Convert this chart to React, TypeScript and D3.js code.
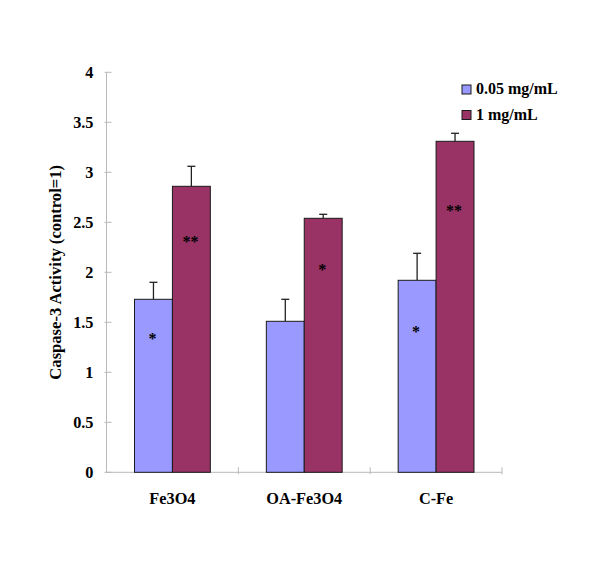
import React from "react";
import * as d3 from "d3";

const categories = ["Fe3O4", "OA-Fe3O4", "C-Fe"];
const seriesNames = ["0.05 mg/mL", "1 mg/mL"];
const seriesColors = ["#9999FF", "#993366"];
const lowDose = [1.73, 1.51, 1.92];
const highDose = [2.86, 2.54, 3.31];
const lowErr = [0.17, 0.22, 0.27];
const highErr = [0.2, 0.04, 0.08];
const lowMarks = ["*", "", "*"];
const highMarks = ["**", "*", "**"];
const lowMarkAt = [1.36, 0, 1.43];
const highMarkAt = [2.33, 2.05, 2.64];
const yTicks = [0, 0.5, 1, 1.5, 2, 2.5, 3, 3.5, 4];

const W = 600;
const H = 566;
const FONT = "'Liberation Serif', 'Times New Roman', serif";

export default function App() {
  const x0 = d3.scaleBand<string>().domain(categories).range([106.5, 502]).padding(0);
  const x1 = d3
    .scaleBand<string>()
    .domain(["a", "b"])
    .range([28, x0.bandwidth() - 28])
    .padding(0);
  const y = d3.scaleLinear().domain([0, 4]).range([472.3, 72.3]);

  const series = [
    { key: "a", values: lowDose, errs: lowErr, marks: lowMarks, markAt: lowMarkAt, color: seriesColors[0] },
    { key: "b", values: highDose, errs: highErr, marks: highMarks, markAt: highMarkAt, color: seriesColors[1] },
  ];
  const axisColor = "#b8b8b8";
  const ax = 106.5;

  return (
    <svg
      width={W}
      height={H}
      style={{ position: "absolute", left: 0, top: 0, background: "#fff" }}
      fontFamily={FONT}
    >
      <rect x={0} y={0} width={W} height={H} fill="#fff" />
      {/* y axis */}
      <line x1={ax} x2={ax} y1={y(0)} y2={y(4)} stroke={axisColor} strokeWidth={1} />
      {yTicks.map((t) => (
        <g key={t}>
          <line x1={ax - 2} x2={ax + 5} y1={y(t)} y2={y(t)} stroke={axisColor} strokeWidth={1} />
          <text
            x={93.5}
            y={y(t) + 1.5}
            textAnchor="end"
            dominantBaseline="middle"
            fontSize={16.3}
            fontWeight="bold"
            fill="#000"
          >
            {t}
          </text>
        </g>
      ))}
      {/* x axis */}
      <line x1={ax} x2={502} y1={y(0)} y2={y(0)} stroke={axisColor} strokeWidth={1} />
      {categories.map((c, i) => (
        <line
          key={"xt" + i}
          x1={(x0(c) as number) + x0.bandwidth()}
          x2={(x0(c) as number) + x0.bandwidth()}
          y1={y(0) - 5}
          y2={y(0) + 2}
          stroke={axisColor}
          strokeWidth={1}
        />
      ))}
      {/* bars */}
      {categories.map((c, i) => (
        <g key={c} transform={`translate(${x0(c)},0)`}>
          {series.map((s) => {
            const bx = x1(s.key) as number;
            const bw = x1.bandwidth();
            const v = s.values[i];
            const cx = bx + bw / 2;
            return (
              <g key={s.key}>
                <line
                  x1={cx}
                  x2={cx}
                  y1={y(v)}
                  y2={y(v + s.errs[i])}
                  stroke="#222"
                  strokeWidth={1.3}
                />
                <line
                  x1={cx - 4}
                  x2={cx + 4}
                  y1={y(v + s.errs[i])}
                  y2={y(v + s.errs[i])}
                  stroke="#222"
                  strokeWidth={1.3}
                />
                <rect
                  x={bx}
                  y={y(v)}
                  width={bw}
                  height={y(0) - y(v)}
                  fill={s.color}
                  stroke="#1a1a1a"
                  strokeWidth={1}
                />
                {s.marks[i] && (
                  <text
                    x={cx - 1}
                    y={y(s.markAt[i]) + 8}
                    textAnchor="middle"
                    fontSize={16}
                    fontWeight="bold"
                    fill="#000"
                  >
                    {s.marks[i]}
                  </text>
                )}
              </g>
            );
          })}
        </g>
      ))}
      {/* x labels */}
      {categories.map((c) => (
        <text
          key={"xl" + c}
          x={(x0(c) as number) + x0.bandwidth() / 2}
          y={504}
          textAnchor="middle"
          fontSize={16.3}
          fontWeight="bold"
          fill="#000"
        >
          {c}
        </text>
      ))}
      {/* y title */}
      <text
        transform={`translate(61,${(y(0) + y(4)) / 2}) rotate(-90)`}
        textAnchor="middle"
        fontSize={16.6}
        fontWeight="bold"
        fill="#000"
      >
        Caspase-3 Activity (control=1)
      </text>
      {/* legend */}
      {seriesNames.map((n, i) => (
        <g key={n} transform={`translate(462,${85 + i * 25.5})`}>
          <rect x={0} y={0} width={9} height={9} fill={seriesColors[i]} stroke="#1a1a1a" strokeWidth={1} />
          <text x={14} y={9.3} fontSize={16} fontWeight="bold" fill="#000">
            {n}
          </text>
        </g>
      ))}
    </svg>
  );
}
